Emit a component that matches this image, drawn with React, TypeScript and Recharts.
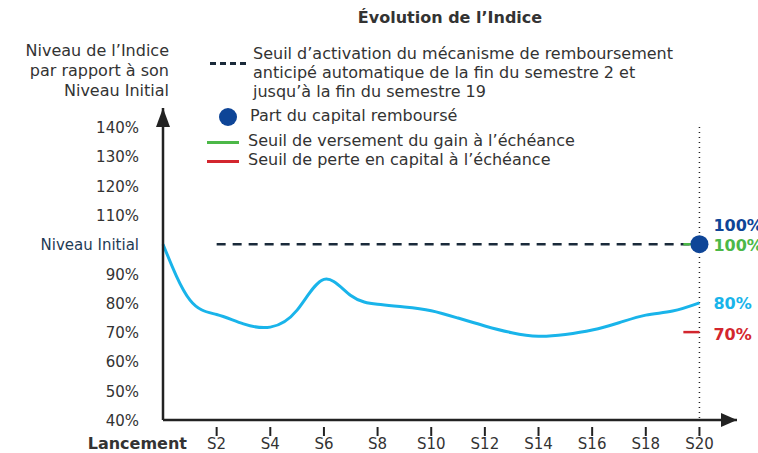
import { ComposedChart, Line, XAxis, YAxis, ReferenceLine, ReferenceDot } from "recharts";

// semestres 0 (lancement) à 20
const semesters = [0, 1, 2, 3, 4, 5, 6, 7, 8, 9, 10, 11, 12, 13, 14, 15, 16, 17, 18, 19, 20];
const indexLevels = [100, 81, 76, 72.8, 71.7, 77.5, 88, 82.5, 79.5, 78.6, 77.3, 74.8, 72.1, 69.8, 68.6, 69.2, 70.7, 73.2, 75.8, 77.2, 80];
// seuil de remboursement anticipé : semestre 2 à 20
const autocallLevels = [null, null, 100, 100, 100, 100, 100, 100, 100, 100, 100, 100, 100, 100, 100, 100, 100, 100, 100, 100, 100];

const xTicks = [0, 2, 4, 6, 8, 10, 12, 14, 16, 18, 20];
const xTickLabels = ["Lancement", "S2", "S4", "S6", "S8", "S10", "S12", "S14", "S16", "S18", "S20"];
const yTicks = [40, 50, 60, 70, 80, 90, 100, 110, 120, 130, 140];

const gainThreshold = 100;
const lossThreshold = 70;
const capitalRepaid = 100;
const finalLevel = 80;

const FONT = "'DejaVu Sans', sans-serif";
const TEXT = "#333333";
const CYAN = "#19b4ea";
const NAVY = "#0e4597";
const GREEN = "#4cb848";
const RED = "#d3262e";

const chartData = semesters.map((s, i) => ({
  s,
  indice: indexLevels[i],
  seuil: autocallLevels[i],
}));

const XTick = ({ x, y, payload }: any) => {
  const idx = xTicks.indexOf(payload.value);
  const label = xTickLabels[idx];
  if (payload.value === 0) {
    return (
      <text x={x + 24} y={y + 21} textAnchor="end" fontFamily={FONT} fontSize={16} fontWeight="bold" fill={TEXT}>
        {label}
      </text>
    );
  }
  return (
    <g>
      <line x1={x} y1={y - 1} x2={x} y2={y + 8} stroke="#222" strokeWidth={2} />
      <text x={x} y={y + 21} textAnchor="middle" fontFamily={FONT} fontSize={15} fill={TEXT}>
        {label}
      </text>
    </g>
  );
};

const YTick = ({ x, y, payload }: any) => {
  const v = payload.value;
  const initial = v === 100;
  return (
    <text x={x - 16} y={y + 6} textAnchor="end" fontFamily={FONT} fontSize={15} fill={initial ? "#1f3b55" : TEXT}>
      {initial ? "Niveau Initial" : `${v}%`}
    </text>
  );
};

const UpArrow = ({ cx, cy }: any) => (
  <polygon points={`${cx},${cy} ${cx - 7},${cy + 19} ${cx + 7},${cy + 19}`} fill="#222" />
);
const RightArrow = ({ cx, cy }: any) => (
  <polygon points={`${cx},${cy} ${cx - 16},${cy - 7} ${cx - 16},${cy + 7}`} fill="#222" />
);

const sideLabel = (text: string, color: string, dy: number) => ({ cx, cy }: any) => (
  <text x={cx + 14} y={cy + dy} fontFamily={FONT} fontSize={16} fontWeight="bold" fill={color}>
    {text}
  </text>
);

export default function App() {
  return (
    <div style={{ position: "absolute", left: 0, top: 0, width: 758, height: 453, background: "#fff", fontFamily: FONT, color: TEXT }}>
      <div style={{ position: "absolute", left: 250, width: 400, top: 8, textAlign: "center", fontWeight: "bold", fontSize: 16 }}>
        Évolution de l’Indice
      </div>
      <div style={{ position: "absolute", right: 758 - 169, top: 41, textAlign: "right", fontSize: 16, lineHeight: "20px" }}>
        Niveau de l’Indice<br />par rapport à son<br />Niveau Initial
      </div>

      {/* légende */}
      <div style={{ position: "absolute", left: 210, top: 62, width: 36, borderTop: "3px dashed #1a2a3a" }} />
      <div style={{ position: "absolute", left: 253, top: 44, fontSize: 16, lineHeight: "19px" }}>
        Seuil d’activation du mécanisme de remboursement<br />anticipé automatique de la fin du semestre 2 et<br />jusqu’à la fin du semestre 19
      </div>
      <div style={{ position: "absolute", left: 219, top: 108, width: 18, height: 18, borderRadius: 9, background: NAVY }} />
      <div style={{ position: "absolute", left: 250, top: 106, fontSize: 16, lineHeight: "20px" }}>Part du capital remboursé</div>
      <div style={{ position: "absolute", left: 207, top: 141, width: 32, borderTop: `3px solid ${GREEN}` }} />
      <div style={{ position: "absolute", left: 248, top: 131, fontSize: 16, lineHeight: "20px" }}>Seuil de versement du gain à l’échéance</div>
      <div style={{ position: "absolute", left: 207, top: 160, width: 32, borderTop: `3px solid ${RED}` }} />
      <div style={{ position: "absolute", left: 248, top: 150, fontSize: 16, lineHeight: "20px" }}>Seuil de perte en capital à l’échéance</div>

      <div style={{ position: "absolute", left: 0, top: 0 }}>
        <ComposedChart width={758} height={453} data={chartData} margin={{ top: 108, right: 21, bottom: 0, left: 0 }}>
          <XAxis
            dataKey="s"
            type="number"
            domain={[0, 21.4]}
            ticks={xTicks}
            interval={0}
            axisLine={{ stroke: "#222", strokeWidth: 2.5 }}
            tickLine={false}
            tick={<XTick />}
            height={33}
          />
          <YAxis
            type="number"
            domain={[40, 146.5]}
            ticks={yTicks}
            interval={0}
            width={163}
            axisLine={{ stroke: "#222", strokeWidth: 2.5 }}
            tickLine={false}
            tick={<YTick />}
          />
          <ReferenceLine
            segment={[{ x: 20, y: 140 }, { x: 20, y: 40 }]}
            stroke="#222"
            strokeWidth={1.5}
            strokeDasharray="1 4"
          />
          <Line
            dataKey="seuil"
            stroke="#1a2a3a"
            strokeWidth={2.5}
            strokeDasharray="9 7"
            dot={false}
            isAnimationActive={false}
          />
          <ReferenceLine segment={[{ x: 19.4, y: gainThreshold }, { x: 20, y: gainThreshold }]} stroke={GREEN} strokeWidth={2.5} />
          <ReferenceLine segment={[{ x: 19.4, y: lossThreshold }, { x: 20, y: lossThreshold }]} stroke={RED} strokeWidth={2.5} />
          <Line
            type="natural"
            dataKey="indice"
            stroke={CYAN}
            strokeWidth={3}
            dot={false}
            isAnimationActive={false}
          />
          <ReferenceDot x={20} y={capitalRepaid} r={9} fill={NAVY} stroke="none" />
          <ReferenceDot x={20} y={capitalRepaid} shape={sideLabel("100%", NAVY, -13)} />
          <ReferenceDot x={20} y={gainThreshold} shape={sideLabel("100%", GREEN, 7)} />
          <ReferenceDot x={20} y={finalLevel} shape={sideLabel("80%", CYAN, 6)} />
          <ReferenceDot x={20} y={lossThreshold} shape={sideLabel("70%", RED, 8)} />
          <ReferenceDot x={0} y={146.5} shape={<UpArrow />} />
          <ReferenceDot x={21.4} y={40} shape={<RightArrow />} />
        </ComposedChart>
      </div>
    </div>
  );
}
